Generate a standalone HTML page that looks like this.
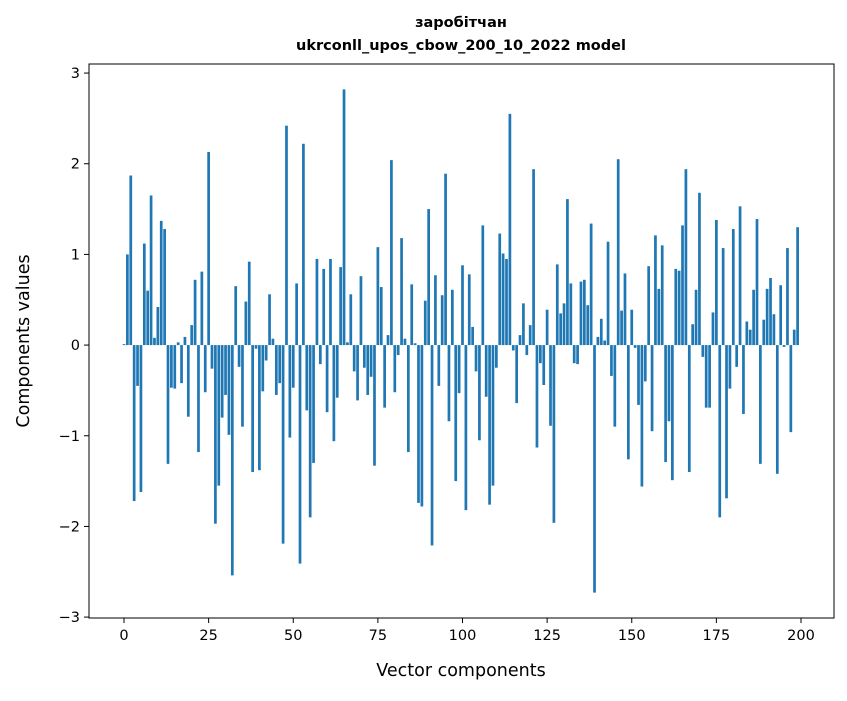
<!DOCTYPE html>
<html><head><meta charset="utf-8"><style>
body{margin:0;background:#fff;}
svg text{font-family:"DejaVu Sans","Liberation Sans",sans-serif;}
</style></head><body>
<svg id="chart" width="847" height="696" xmlns="http://www.w3.org/2000/svg">
<rect width="847" height="696" fill="#fff"/>
<text x="461" y="27" text-anchor="middle" font-size="14.5" font-weight="bold">заробітчан</text>
<text x="461" y="50" text-anchor="middle" font-size="14.5" font-weight="bold">ukrconll_upos_cbow_200_10_2022 model</text>
<g id="bars"></g>
<g id="xticks"></g>
<g id="yticks"></g>
<rect x="89" y="64" width="745" height="554" fill="none" stroke="#000" stroke-width="1"/>
<text x="461" y="676" text-anchor="middle" font-size="17.5">Vector components</text>
<text transform="translate(29,341) rotate(-90)" text-anchor="middle" font-size="17.5">Components values</text>
</svg>
<script>
const values = [0.01,1.0,1.87,-1.72,-0.45,-1.62,1.12,0.6,1.65,0.08,0.42,1.37,1.28,-1.31,-0.47,-0.48,0.03,-0.42,0.09,-0.79,
0.22,0.72,-1.18,0.81,-0.52,2.13,-0.26,-1.97,-1.55,-0.8,-0.55,-0.99,-2.54,0.65,-0.24,-0.9,0.48,0.92,-1.4,-0.04,
-1.38,-0.51,-0.17,0.56,0.07,-0.55,-0.42,-2.19,2.42,-1.02,-0.47,0.68,-2.41,2.22,-0.72,-1.9,-1.3,0.95,-0.21,0.84,
-0.74,0.95,-1.06,-0.58,0.86,2.82,0.03,0.56,-0.29,-0.61,0.76,-0.25,-0.55,-0.35,-1.33,1.08,0.64,-0.69,0.11,2.04,
-0.52,-0.11,1.18,0.07,-1.18,0.67,0.02,-1.74,-1.78,0.49,1.5,-2.21,0.77,-0.45,0.55,1.89,-0.84,0.61,-1.5,-0.53,
0.88,-1.82,0.78,0.2,-0.29,-1.05,1.32,-0.57,-1.76,-1.55,-0.25,1.23,1.01,0.95,2.55,-0.06,-0.64,0.11,0.46,-0.11,
0.22,1.94,-1.13,-0.2,-0.44,0.39,-0.89,-1.96,0.89,0.35,0.46,1.61,0.68,-0.2,-0.21,0.7,0.72,0.44,1.34,-2.73,
0.09,0.29,0.05,1.14,-0.34,-0.9,2.05,0.38,0.79,-1.26,0.39,-0.03,-0.66,-1.56,-0.4,0.87,-0.95,1.21,0.62,1.1,
-1.29,-0.84,-1.49,0.84,0.82,1.32,1.94,-1.4,0.23,0.61,1.68,-0.13,-0.69,-0.69,0.36,1.38,-1.9,1.07,-1.69,-0.48,
1.28,-0.24,1.53,-0.76,0.26,0.17,0.61,1.39,-1.31,0.28,0.62,0.74,0.34,-1.42,0.66,-0.02,1.07,-0.96,0.17,1.3];
const xTicks = [0,25,50,75,100,125,150,175,200];
const yTicks = [-3,-2,-1,0,1,2,3];
const L=89,R=834,T=64,B=618,xmin=-10.34,xmax=209.75,ymin=-3.01,ymax=3.1;
function sx(v){return L+(v-xmin)/(xmax-xmin)*(R-L);}
function sy(v){return T+(ymax-v)/(ymax-ymin)*(B-T);}
const NS="http://www.w3.org/2000/svg";
const bars=document.getElementById('bars');
values.forEach((v,i)=>{
  const r=document.createElementNS(NS,'rect');
  const x0=sx(i-0.4),x1=sx(i+0.4),y0=sy(Math.max(v,0)),y1=sy(Math.min(v,0));
  r.setAttribute('x',x0);r.setAttribute('width',x1-x0);
  r.setAttribute('y',y0);r.setAttribute('height',Math.max(y1-y0,0.3));
  r.setAttribute('fill','#1f77b4');
  
  
  bars.appendChild(r);
});
const xg=document.getElementById('xticks');
xTicks.forEach(t=>{
  const x=sx(t);
  const l=document.createElementNS(NS,'line');
  l.setAttribute('x1',x);l.setAttribute('x2',x);l.setAttribute('y1',B);l.setAttribute('y2',B+5);l.setAttribute('stroke','#000');
  
  
  xg.appendChild(l);
  const tx=document.createElementNS(NS,'text');
  tx.setAttribute('x',x);tx.setAttribute('y',B+22);tx.setAttribute('text-anchor','middle');tx.setAttribute('font-size','14.5');
  tx.textContent=t;
  
  
  xg.appendChild(tx);
});
const yg=document.getElementById('yticks');
yTicks.forEach(t=>{
  const y=sy(t);
  const l=document.createElementNS(NS,'line');
  l.setAttribute('x1',L-5);l.setAttribute('x2',L);l.setAttribute('y1',y);l.setAttribute('y2',y);l.setAttribute('stroke','#000');
  
  
  yg.appendChild(l);
  const tx=document.createElementNS(NS,'text');
  tx.setAttribute('x',L-9);tx.setAttribute('y',y+5);tx.setAttribute('text-anchor','end');tx.setAttribute('font-size','14.5');
  tx.textContent=t<0?'\u2212'+Math.abs(t):String(t);
  
  
  yg.appendChild(tx);
});
</script>
</body></html>
